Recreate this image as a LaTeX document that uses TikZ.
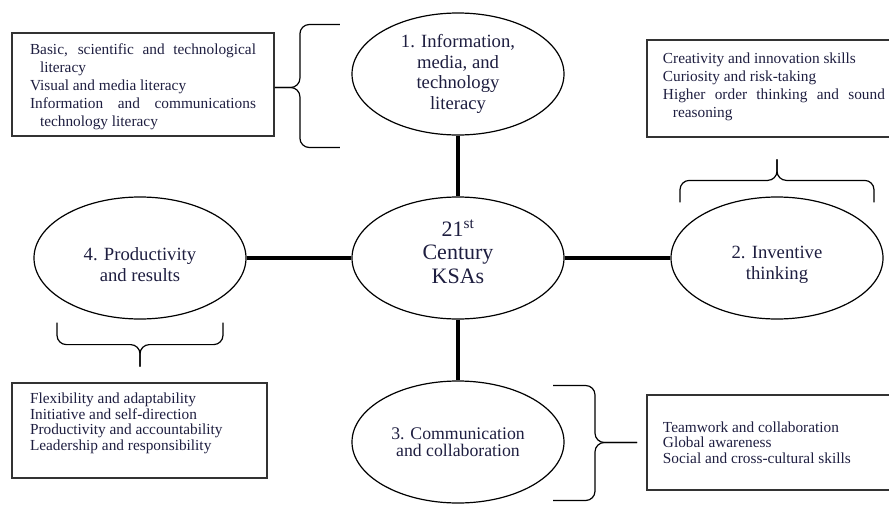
\documentclass[tikz,border=0pt]{standalone}
\usepackage{fontspec}
\setmainfont{Liberation Serif}
\usetikzlibrary{shapes.geometric,calc}
\definecolor{inkblue}{RGB}{30,30,64}
\tikzstyle{topic}=[ellipse, draw, line width=0.9pt, inner sep=0pt, minimum width=159pt, minimum height=91.5pt, align=center, text=inkblue, font=\fontsize{14}{15.5}\selectfont]
\tikzstyle{skillbox}=[draw=black!80, line width=1.4pt, inner xsep=13.5pt, inner ysep=6pt, text=inkblue, font=\fontsize{11.5}{13.5}\selectfont]
\tikzstyle{link}=[line width=2.6pt]
\tikzstyle{skillbrace}=[line width=0.9pt, rounded corners=7pt]
\newcommand{\skill}[1]{\hangindent=7.5pt\hangafter=1 #1\par}

\begin{document}
\begin{tikzpicture}[x=0.75pt,y=-0.75pt]
	\clip (0,0) rectangle (889,504);
	\hbadness=10000
	%% the five areas
	\node[topic, font=\fontsize{16.5}{17.6}\selectfont] (ksa) at (458,258) {21\textsuperscript{st}\\Century\\KSAs\rule[-10pt]{0pt}{10pt}};
	\node[topic] (info) at (458,74) {1. Information,\\media, and\\technology\\literacy};
	\node[topic] (invent) at (777,258) {\rule{0pt}{20pt}2. Inventive\\thinking};
	\node[topic, font=\fontsize{13.3}{12.5}\selectfont] (comm) at (458,442) {3. Communication\\and collaboration};
	\node[topic] (prod) at (140,258) {\rule{0pt}{20pt}4. Productivity\\and results};
	%% the skill lists
	\node[skillbox] (box1) at (143,84.5) {\parbox[c][65.25pt][t]{169.5pt}{\vspace*{2pt}%
		\skill{Basic, scientific and technological\linebreak literacy}
		\skill{Visual and media literacy}
		\skill{Information and communications\linebreak technology literacy}}};
	\node[skillbox, anchor=west, inner xsep=12pt] (box2) at (646,88.5) {\parbox[c][60.75pt][t]{166.5pt}{\vspace*{3.7pt}%
		\skill{Creativity and innovation skills}
		\skill{Curiosity and risk-taking}
		\skill{Higher order thinking and sound\linebreak reasoning}}};
	\node[skillbox, anchor=west, inner xsep=12pt, font=\fontsize{11.5}{11.7}\selectfont] (box3) at (646,442.5) {\parbox[c][59.25pt][c]{166.5pt}{%
		\skill{Teamwork and collaboration}
		\skill{Global awareness}
		\skill{Social and cross-cultural skills}}};
	\node[skillbox, font=\fontsize{11.5}{11.7}\selectfont] (box4) at (139.5,430.5) {\parbox[c][59.25pt][t]{164.25pt}{\vspace*{1.5pt}%
		\skill{Flexibility and adaptability}
		\skill{Initiative and self-direction}
		\skill{Productivity and accountability}
		\skill{Leadership and responsibility}}};
	%% the braces
	\coordinate (tip1) at ($(box1.east)+(0,3)$);
	\coordinate (tip2) at ($(invent.north)+(0,-37)$);
	\coordinate (tip3) at ($(box3.west)+(-9,0)$);
	\coordinate (tip4) at ($(prod.south)+(0,47)$);
	\draw[skillbrace] (tip1) -- ++(25,0) |- ++(40,-63);
	\draw[skillbrace] (tip1) -- ++(25,0) |- ++(40,60);
	\draw[skillbrace] (tip2) -- ++(0,21) -| ++(-97,22);
	\draw[skillbrace] (tip2) -- ++(0,21) -| ++(97,22);
	\draw[skillbrace] (tip3) -- ++(-42,0) |- ++(-42,-57);
	\draw[skillbrace] (tip3) -- ++(-42,0) |- ++(-42,58);
	\draw[skillbrace] (tip4) -- ++(0,-22) -| ++(-83,-22);
	\draw[skillbrace] (tip4) -- ++(0,-22) -| ++(83,-22);
	%% for the links
	\path[link]
		(info) edge (ksa)
		(ksa) edge (invent)
		(ksa) edge (comm)
		(prod) edge (ksa)
		;
\end{tikzpicture}
\end{document}
